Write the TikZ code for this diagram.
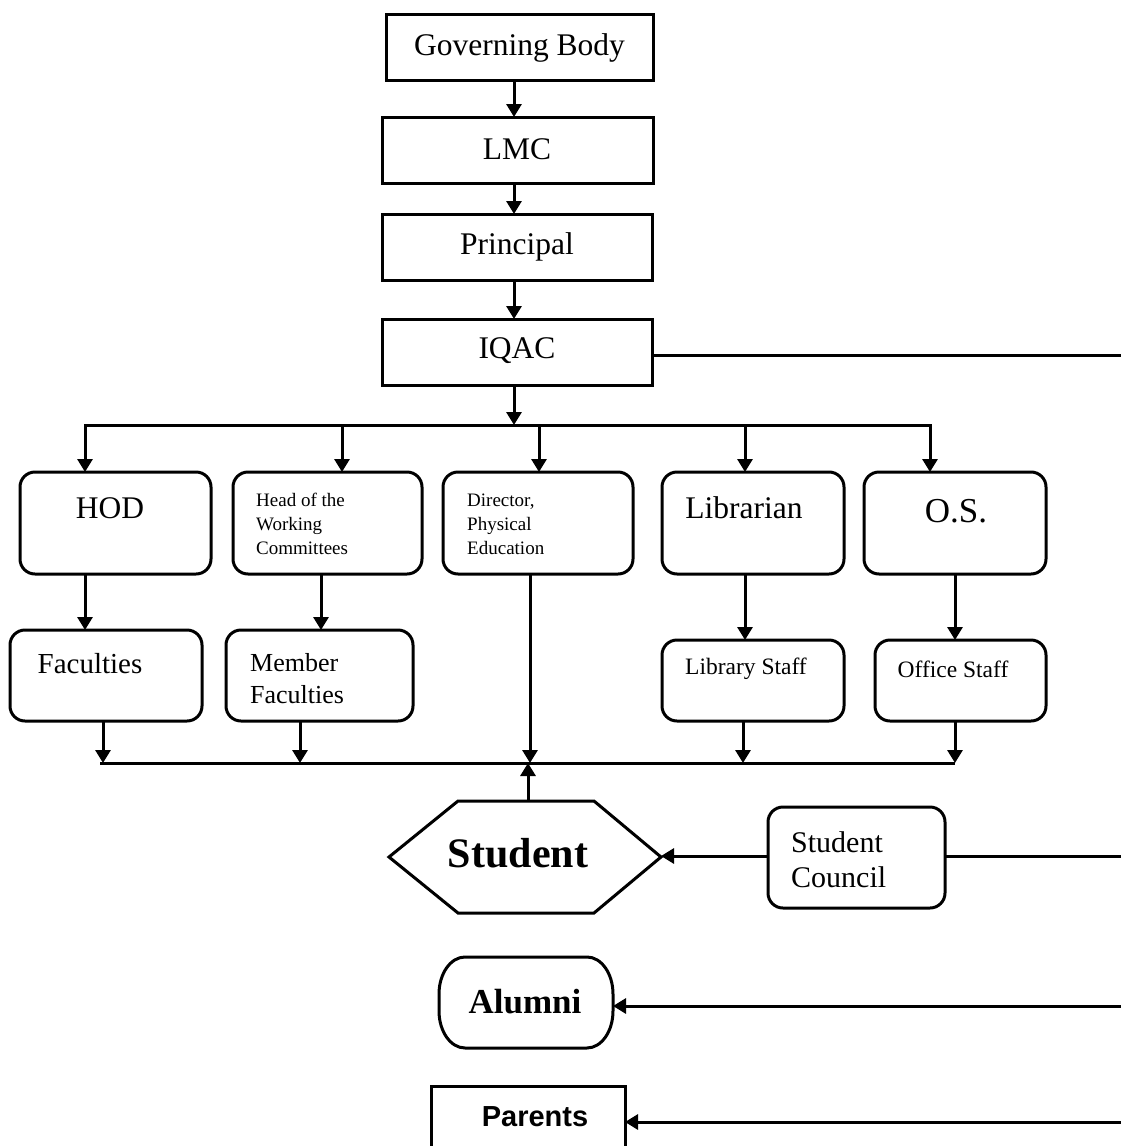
\documentclass[tikz,border=0pt]{standalone}
\usepackage{fontspec}
\setmainfont{Liberation Serif}
\newfontfamily\arialfont{Liberation Sans}
\usetikzlibrary{arrows.meta,calc}
\begin{document}
\begin{tikzpicture}[x=1pt,y=-1pt,
  line/.style={line width=3pt},
  arr/.style={line width=3pt,line join=miter,-{Triangle[length=13pt,width=15pt]}},
  sqbox/.style={draw,line width=3pt,rectangle,inner sep=0pt,outer sep=0pt},
  rbox/.style={draw,line width=3pt,rectangle,rounded corners=15pt,inner sep=0pt,outer sep=0pt},
  txt/.style={inner sep=0pt,align=left}
]
\clip (0,0) rectangle (1121,1146);
\fill[white] (0,0) rectangle (1121,1146);

% top chain
\node[sqbox,minimum width=267pt,minimum height=66pt] (gb) at (519.5,47) {};
\node[txt,font=\fontsize{31.5}{36}\selectfont] (gbt) at (519.5,48) {Governing Body};
\node[sqbox,minimum width=271pt,minimum height=66pt] (lmc) at (517.5,150) {};
\node[txt,font=\fontsize{31.5}{36}\selectfont] (lmct) at (517,149) {LMC};
\node[sqbox,minimum width=270pt,minimum height=66pt] (prin) at (517,247) {};
\node[txt,font=\fontsize{31.5}{36}\selectfont] (print) at (517,247) {Principal};
\node[sqbox,minimum width=270pt,minimum height=66pt] (iqac) at (517,352) {};
\node[txt,font=\fontsize{31.5}{36}\selectfont] (iqact) at (517,351) {IQAC};

\coordinate (a0) at (514,0);
\draw[arr] (a0 |- gb.south) -- (a0 |- lmc.north);
\draw[arr] (a0 |- lmc.south) -- (a0 |- prin.north);
\draw[arr] (a0 |- prin.south) -- (a0 |- iqac.north);
\coordinate (r1) at (1121,355);
\draw[line] (r1 -| iqac.east) -- (r1);

% first row
\node[rbox,minimum width=191pt,minimum height=102pt] (hod) at (115.5,523) {};
\node[txt,font=\fontsize{31.5}{36}\selectfont] (hodt) at (110,508) {HOD};
\node[rbox,minimum width=189pt,minimum height=102pt] (hwc) at (327.5,523) {};
\node[txt,anchor=west,font=\fontsize{19}{24}\selectfont] (hwct) at (256,524) {Head of the\\Working\\Committees};
\node[rbox,minimum width=190pt,minimum height=102pt] (dir) at (538,523) {};
\node[txt,anchor=west,font=\fontsize{19}{24}\selectfont] (dirt) at (467,524) {Director,\\Physical\\Education};
\node[rbox,minimum width=182pt,minimum height=102pt] (lib) at (753,523) {};
\node[txt,font=\fontsize{31.5}{36}\selectfont] (libt) at (744,508) {Librarian};
\node[rbox,minimum width=182pt,minimum height=102pt] (os) at (955,523) {};
\node[txt,font=\fontsize{35}{40}\selectfont] (ost) at (956,511) {O.S.};

% bus 1
\coordinate (bL) at (85,425);
\coordinate (bR) at (930,425);
\coordinate (x2) at (342,425);
\coordinate (x3) at (539,425);
\coordinate (x4) at (745,425);
\draw[arr] (a0 |- iqac.south) -- (a0 |- bL);
\draw[arr] (bR) -- (bL) -- (bL |- hod.north);
\draw[arr] (bL) -- (bR) -- (bR |- os.north);
\draw[arr] (x2) -- (x2 |- hwc.north);
\draw[arr] (x3) -- (x3 |- dir.north);
\draw[arr] (x4) -- (x4 |- lib.north);

% second row
\node[rbox,minimum width=192pt,minimum height=91pt] (fac) at (106,675.5) {};
\node[txt,font=\fontsize{29}{32}\selectfont] (fact) at (90,664) {Faculties};
\node[rbox,minimum width=187pt,minimum height=91pt] (mem) at (319.5,675.5) {};
\node[txt,anchor=west,font=\fontsize{26}{32}\selectfont] (memt) at (250,679) {Member\\Faculties};
\node[rbox,minimum width=182pt,minimum height=81pt] (libs) at (753,680.5) {};
\node[txt,font=\fontsize{23.5}{28}\selectfont] (libst) at (746,669) {Library Staff};
\node[rbox,minimum width=171pt,minimum height=81pt] (offs) at (960.5,680.5) {};
\node[txt,font=\fontsize{23.5}{28}\selectfont] (offst) at (953,669) {Office Staff};

\coordinate (y2) at (321,0);
\coordinate (y5) at (955,0);
\draw[arr] (bL |- hod.south) -- (bL |- fac.north);
\draw[arr] (y2 |- hwc.south) -- (y2 |- mem.north);
\draw[arr] (x4 |- lib.south) -- (x4 |- libs.north);
\draw[arr] (y5 |- os.south) -- (y5 |- offs.north);

% bus 2
\coordinate (cL) at (100,763);
\coordinate (cR) at (955,763);
\coordinate (z1) at (103,763);
\coordinate (z2) at (300,763);
\coordinate (z3) at (530,763);
\coordinate (z4) at (743,763);
\draw[line] (cL) -- (cR);
\draw[arr] (z1 |- fac.south) -- (z1);
\draw[arr] (z2 |- mem.south) -- (z2);
\draw[arr] (z3 |- dir.south) -- (z3);
\draw[arr] (z4 |- libs.south) -- (z4);
\draw[arr] (cR |- offs.south) -- (cR);

% student hexagon
\node[minimum width=272pt,minimum height=112pt,inner sep=0pt,outer sep=0pt] (stu) at (525,857) {};
\draw[line,line join=miter] (stu.west) -- ($(stu.north west)+(69,0)$) -- ($(stu.north east)+(-67,0)$)
  -- (stu.east) -- ($(stu.south east)+(-67,0)$) -- ($(stu.south west)+(69,0)$) -- cycle;
\node[txt,font=\fontsize{42}{42}\selectfont\bfseries] (stut) at (518,853) {Student};
\coordinate (up) at (528,801);
\draw[arr] (up) -- (up |- cL);

% student council
\node[rbox,minimum width=177pt,minimum height=101pt] (sc) at (856.5,857.5) {};
\node[txt,anchor=west,font=\fontsize{30}{35}\selectfont] (sct) at (791,859.5) {Student\\Council};
\coordinate (r2) at (1121,856);
\draw[arr] (sc.west |- r2) -- (r2 -| stu.east);
\draw[line] (sc.east |- r2) -- (r2);

% alumni
\node[minimum width=174pt,minimum height=91pt,inner sep=0pt,outer sep=0pt] (alu) at (526,1002.5) {};
\draw[line] ($(alu.north west)+(26,0)$) -- ++(122,0)
  arc[start angle=270,end angle=360,x radius=26,y radius=37] -- ++(0,17)
  arc[start angle=0,end angle=90,x radius=26,y radius=37] -- ++(-122,0)
  arc[start angle=90,end angle=180,x radius=26,y radius=37] -- ++(0,-17)
  arc[start angle=180,end angle=270,x radius=26,y radius=37] -- cycle;
\node[txt,font=\fontsize{35}{40}\selectfont\bfseries] (alut) at (525,1002) {Alumni};
\coordinate (r3) at (1121,1006);
\draw[arr] (r3) -- (r3 -| alu.east);

% parents
\node[sqbox,minimum width=194pt,minimum height=80pt] (par) at (528,1126) {};
\node[txt,font=\arialfont\fontsize{29}{32}\selectfont\bfseries] (part) at (535,1117) {Parents};
\coordinate (r4) at (1121,1122);
\draw[arr] (r4) -- (r4 -| par.east);
\end{tikzpicture}
\end{document}
